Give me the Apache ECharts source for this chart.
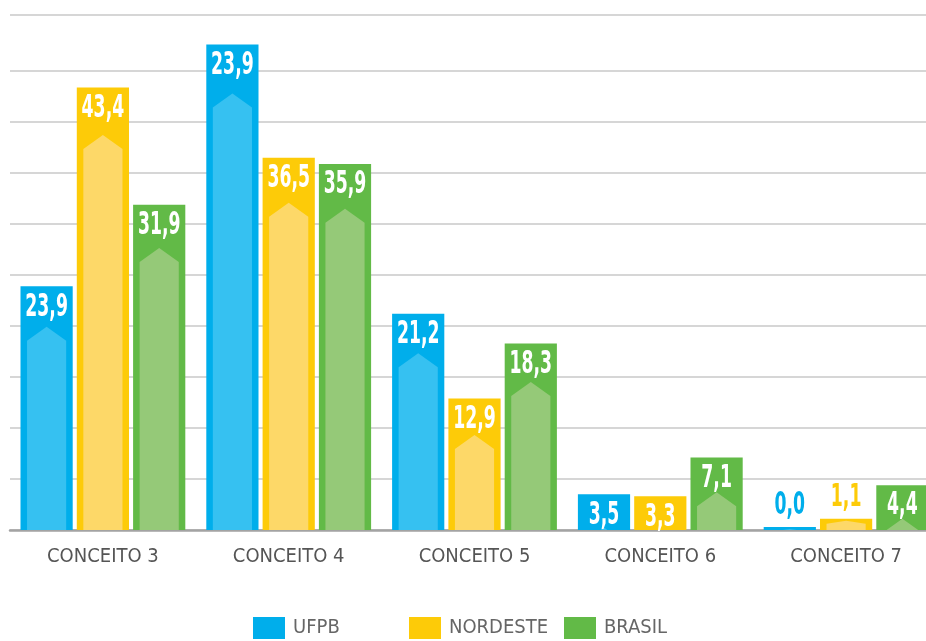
<!DOCTYPE html>
<html>
<head>
<meta charset="utf-8">
<script src="https://cdn.jsdelivr.net/npm/echarts@6/dist/echarts.min.js"></script>
<style>
html,body{margin:0;padding:0;background:#fff;}
#chart{width:926px;height:641px;}
</style>
</head>
<body>
<div id="chart"></div>
<script>
var categories = ['CONCEITO 3', 'CONCEITO 4', 'CONCEITO 5', 'CONCEITO 6', 'CONCEITO 7'];
var seriesNames = ['UFPB', 'NORDESTE', 'BRASIL'];
// bar heights as drawn in the picture
var ufpbValues = [23.9, 47.6, 21.2, 3.5, 0.3];
var nordesteValues = [43.4, 36.5, 12.9, 3.3, 1.1];
var brasilValues = [31.9, 35.9, 18.3, 7.1, 4.4];
// value labels as printed in the picture
var ufpbLabels = ['23,9', '23,9', '21,2', '3,5', '0,0'];
var nordesteLabels = ['43,4', '36,5', '12,9', '3,3', '1,1'];
var brasilLabels = ['31,9', '35,9', '18,3', '7,1', '4,4'];
var gridTicks = [0, 5, 10, 15, 20, 25, 30, 35, 40, 45, 50.5];

var palette = [
  { outer: '#00AEEB', inner: '#36C1F1' },
  { outer: '#FDCB08', inner: '#FDD868' },
  { outer: '#62BA47', inner: '#95C978' }
];

var FONT = '"DejaVu Sans Condensed", "DejaVu Sans", sans-serif';

function makeRender(si, labels) {
  var col = palette[si];
  return function (params, api) {
    var ci = api.value(0), v = api.value(1);
    var base = api.coord([ci, 0]);
    var top = api.coord([ci, v]);
    var band = api.size([1, 0])[0];
    var bw = band * 0.281;
    var gap = band * 0.022;
    var groupW = 3 * bw + 2 * gap;
    var x = base[0] - groupW / 2 + si * (bw + gap);
    var h = base[1] - top[1];
    var inside = h >= 30;
    var tipOff = inside ? 32 + 0.035 * h : 2;
    var shOff = inside ? tipOff + 14 : 5;
    var ins = bw * 0.125;
    var cx = x + bw / 2;
    var children = [
      { type: 'rect', shape: { x: x, y: top[1], width: bw, height: h }, style: { fill: col.outer } }
    ];
    if (tipOff < h) {
      children.push({
        type: 'polygon',
        shape: { points: [
          [x + ins, base[1]], [x + ins, top[1] + shOff], [cx, top[1] + tipOff],
          [x + bw - ins, top[1] + shOff], [x + bw - ins, base[1]]
        ] },
        style: { fill: col.inner },
        clipPath: { type: 'rect', shape: { x: x, y: top[1], width: bw, height: h } }
      });
    }
    children.push({
      type: 'text',
      x: cx,
      y: inside ? top[1] + 5 : top[1] - 5,
      scaleX: 0.6,
      style: {
        text: labels[params.dataIndex],
        x: 0, y: 0,
        align: 'center',
        verticalAlign: inside ? 'top' : 'bottom',
        fill: inside ? '#ffffff' : col.outer,
        font: 'bold 32px ' + FONT
      }
    });
    return { type: 'group', children: children };
  };
}

function toData(vals) {
  return vals.map(function (v, i) { return [i, v]; });
}

var chart = echarts.init(document.getElementById('chart'), null, { renderer: 'canvas' });
var option = {
  backgroundColor: '#ffffff',
  animation: false,
  grid: { left: 10, top: 15, right: -13, bottom: 111, containLabel: false, outerBoundsMode: 'none' },
  legend: [0, 1, 2].map(function (i) {
    return {
      data: [seriesNames[i]],
      left: [253, 409, 564][i],
      top: 617,
      padding: 0,
      icon: 'rect',
      itemWidth: 32,
      itemHeight: 22,
      textStyle: { color: '#666666', fontFamily: FONT, fontSize: 20, padding: [0, 0, 0, 3] }
    };
  }),
  xAxis: {
    type: 'category',
    data: categories,
    boundaryGap: true,
    axisTick: { show: false },
    axisLine: { lineStyle: { color: '#a3a3a3', width: 2.5 } },
    axisLabel: { color: '#555555', fontFamily: FONT, fontSize: 20, margin: 17 },
    splitLine: { show: false }
  },
  yAxis: {
    type: 'value',
    min: 0,
    max: 50.5,
    axisLabel: { show: false },
    axisLine: { show: false },
    axisTick: { show: false, customValues: gridTicks },
    splitLine: { show: true, lineStyle: { color: '#d6d6d6', width: 2 } }
  },
  series: [
    { name: seriesNames[0], type: 'custom', itemStyle: { color: palette[0].outer }, renderItem: makeRender(0, ufpbLabels), data: toData(ufpbValues), encode: { x: 0, y: 1 } },
    { name: seriesNames[1], type: 'custom', itemStyle: { color: palette[1].outer }, renderItem: makeRender(1, nordesteLabels), data: toData(nordesteValues), encode: { x: 0, y: 1 } },
    { name: seriesNames[2], type: 'custom', itemStyle: { color: palette[2].outer }, renderItem: makeRender(2, brasilLabels), data: toData(brasilValues), encode: { x: 0, y: 1 } }
  ]
};
chart.setOption(option);
</script>
</body>
</html>
